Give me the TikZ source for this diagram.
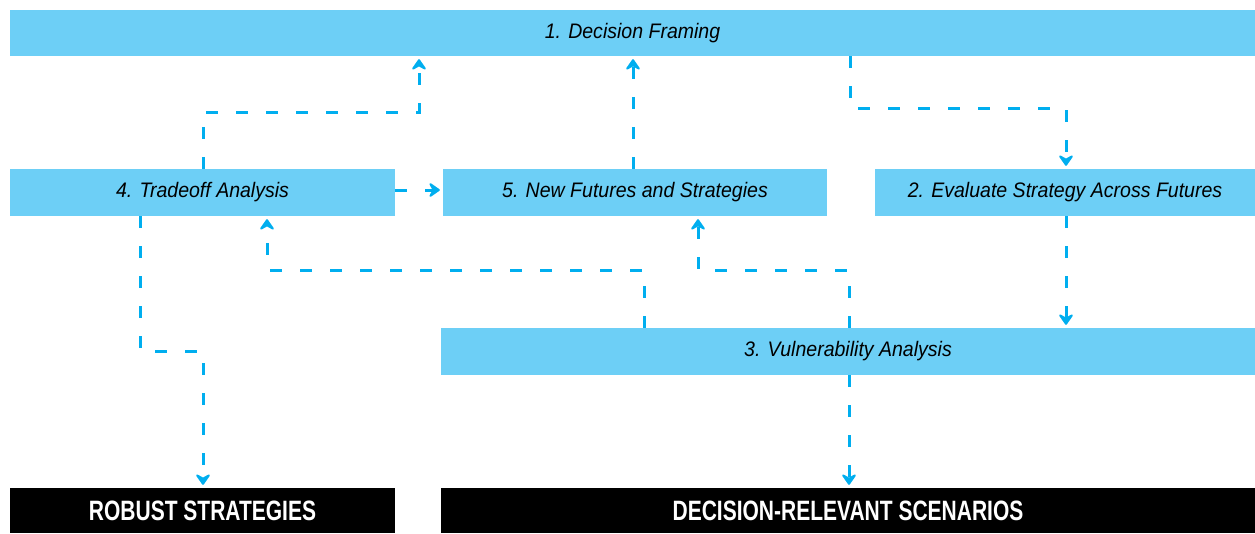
\documentclass[tikz,border=0pt]{standalone}
\usepackage{fontspec}
\usetikzlibrary{arrows.meta}
\newfontfamily\stepfont{Liberation Sans}[FakeStretch=0.93]
\newfontfamily\outfont{Liberation Sans}[FakeStretch=0.75]
\definecolor{boxblue}{HTML}{6DCFF6}
\definecolor{linecyan}{HTML}{00AEEF}
\tikzset{
  stepbox/.style={fill=boxblue, draw=none, inner sep=0pt, font=\stepfont\itshape\fontsize{21}{25}\selectfont, text=black},
  outbox/.style={fill=black, draw=none, inner sep=0pt, font=\outfont\bfseries\fontsize{28}{32}\selectfont, text=white},
  flow/.style={draw=linecyan, line width=3pt, dash pattern=on 12pt off 18pt,
    -{Stealth[length=13pt,width=18pt,inset=5pt,line width=2pt,round,fill=linecyan]}, shorten >=3pt},
}
\begin{document}
\begin{tikzpicture}[x=1pt,y=1pt]
\useasboundingbox (0,0) rectangle (1255,-533);
\node[stepbox, minimum width=1245pt, minimum height=46pt] (b1) at (632.5,-33) {1. Decision Framing};
\node[stepbox, minimum width=385pt, minimum height=47pt] (b4) at (202.5,-192.5) {4. Tradeoff Analysis};
\node[stepbox, minimum width=384pt, minimum height=47pt] (b5) at (635,-192.5) {5. New Futures and Strategies};
\node[stepbox, minimum width=380pt, minimum height=47pt] (b2) at (1065,-192.5) {2. Evaluate Strategy Across Futures};
\node[stepbox, minimum width=814pt, minimum height=47pt] (b3) at (848,-351.5) {3. Vulnerability Analysis};
\node[outbox, minimum width=385pt, minimum height=45pt] (rs) at (202.5,-510.5) {ROBUST STRATEGIES};
\node[outbox, minimum width=814pt, minimum height=45pt] (ds) at (848,-510.5) {DECISION-RELEVANT SCENARIOS};

\coordinate (w1) at (203,-112);
\coordinate (w2) at (419,-112);
\coordinate (w3) at (633,-100);
\coordinate (w4) at (850,-108);
\coordinate (w5) at (1066,-108);
\coordinate (w6) at (644,-270);
\coordinate (w7) at (267,-270);
\coordinate (w8) at (849,-270);
\coordinate (w9) at (698,-270);
\coordinate (w10) at (140,-351);
\coordinate (w11) at (203,-351);
\coordinate (w12) at (0,-190);

\draw[flow] (b4.north -| w1) -- (w1) -- (w2) -- (b1.south -| w2);
\draw[flow] (b5.north -| w3) -- (b1.south -| w3);
\draw[flow] (b1.south -| w4) -- (w4) -- (w5) -- (b2.north -| w5);
\draw[flow] (b4.east |- w12) -- (b5.west |- w12);
\draw[flow] (b2.south -| w5) -- (b3.north -| w5);
\draw[flow] (b3.north -| w6) -- (w6) -- (w7) -- (b4.south -| w7);
\draw[flow] (b3.north -| w8) -- (w8) -- (w9) -- (b5.south -| w9);
\draw[flow] (b4.south -| w10) -- (w10) -- (w11) -- (rs.north -| w11);
\draw[flow] (b3.south -| w8) -- (ds.north -| w8);
\end{tikzpicture}
\end{document}
